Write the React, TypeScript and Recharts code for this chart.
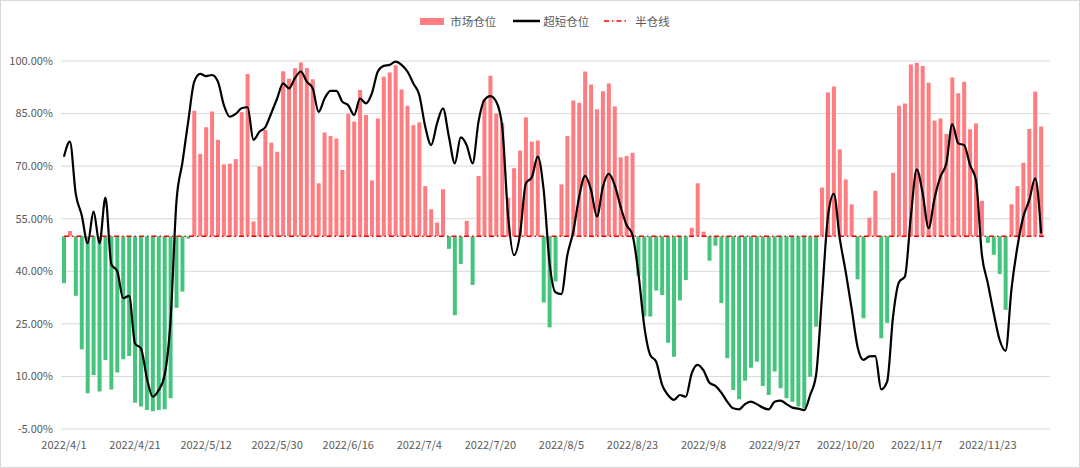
import { Bar, CartesianGrid, Cell, ComposedChart, Legend, Line, XAxis, YAxis } from "recharts";

// 交易日历：周末及节假日休市
const holidays = [
  "2022-04-04", "2022-04-05", "2022-05-02", "2022-05-03", "2022-05-04", "2022-06-03",
  "2022-09-12", "2022-10-03", "2022-10-04", "2022-10-05", "2022-10-06", "2022-10-07",
];

// 市场仓位 (%)
const marketPosition: (number | null)[] = [
  36.6, 51.5, 33.0, 17.7, 5.2, 10.4, 5.7, 14.7, 6.3, 11.1, 14.9, 15.8,
  2.5, 1.4, 0.4, 0.1, 0.4, 0.6, 3.8, 29.6, 34.2, 49.3, 85.8, 73.5,
  81.1, 85.6, 77.5, 70.5, 70.7, 72.0, 85.4, 96.3, 54.2, 69.9, 80.3, 76.7,
  74.1, 97.1, 94.9, 97.9, 99.6, 98.0, 94.8, 65.1, 79.6, 78.6, 77.9, 68.9,
  84.9, 82.7, 91.7, 84.6, 65.9, 83.6, 95.5, 96.7, 98.8, 91.9, 87.2, 81.7,
  82.5, 64.3, 57.7, 53.9, 63.4, 46.4, 27.5, 42.1, 54.4, 36.1, 67.2, 89.0,
  95.8, 85.0, 82.4, 61.0, 69.4, 74.4, 83.9, 77.0, 77.3, 31.1, 24.0, 37.1,
  64.8, 78.6, 88.7, 88.1, 97.0, 93.3, 86.2, 91.4, 93.6, 87.0, 72.5, 72.9,
  73.8, 38.7, 27.1, 27.1, 34.5, 33.2, 19.6, 15.6, 31.7, 37.5, 52.4, 65.1,
  51.3, 43.0, 47.3, 30.9, 15.2, 6.1, 3.5, 8.8, 12.5, 14.2, 7.3, 4.7,
  11.4, 6.6, 3.8, 2.8, 1.4, 0.9, 9.9, 24.2, 63.9, 91.0, 92.7, 74.8,
  66.2, 59.1, 37.7, 26.6, 55.3, 63.0, 20.9, 25.3, 68.1, 87.2, 87.9, 99.0,
  99.5, 98.6, 93.8, 83.0, 83.6, 79.2, 95.3, 90.8, 94.1, 80.5, 82.2, 60.1,
  48.1, 44.7, 39.2, 29.0, 59.1, 64.3, 71.0, 80.6, 91.3, 81.3, null,
];

// 超短仓位 (%)
const shortPosition: (number | null)[] = [
  72.7, 77.0, 62.0, 56.0, 48.0, 57.0, 48.0, 61.0, 42.0, 40.0, 32.3, 33.0,
  19.4, 18.0, 9.5, 4.2, 6.1, 10.4, 26.0, 60.0, 71.0, 83.0, 94.1, 96.3,
  95.7, 96.0, 94.1, 87.4, 84.1, 84.9, 86.5, 86.8, 77.5, 79.8, 81.1, 85.1,
  89.3, 93.6, 92.2, 95.1, 97.0, 94.1, 92.2, 85.5, 89.3, 91.5, 91.5, 88.4,
  87.4, 84.6, 89.3, 87.9, 90.8, 97.0, 98.6, 98.9, 99.8, 98.9, 97.0, 93.6,
  90.3, 81.3, 76.0, 82.2, 86.5, 78.4, 70.8, 78.2, 76.0, 70.8, 82.7, 88.9,
  90.0, 88.4, 81.3, 55.6, 44.6, 50.4, 65.1, 66.8, 72.7, 63.2, 42.3, 34.0,
  33.5, 44.6, 51.3, 61.3, 67.2, 63.2, 55.6, 64.1, 67.8, 64.6, 58.4, 53.2,
  50.4, 39.4, 24.2, 16.1, 14.2, 7.6, 4.7, 3.3, 4.7, 4.2, 10.9, 13.3,
  11.7, 8.2, 7.3, 5.4, 2.8, 0.9, 0.6, 2.1, 2.8, 2.1, 1.1, 0.6,
  2.8, 3.1, 2.1, 1.1, 0.8, 0.4, 4.7, 10.4, 32.8, 55.6, 62.1, 49.4,
  39.9, 29.4, 18.5, 14.7, 15.7, 15.8, 6.3, 8.5, 27.1, 36.9, 38.5, 55.6,
  69.1, 62.2, 52.3, 60.8, 67.0, 70.8, 82.0, 76.5, 76.0, 70.3, 66.0, 44.7,
  36.6, 28.0, 20.4, 17.3, 35.0, 47.0, 55.6, 60.3, 66.5, 50.8, null,
];

const HALF = 50;
const yTicks = [-5, 10, 25, 40, 55, 70, 85, 100];

const RED = "#FF7C80";
const GREEN = "#45C47E";
const TEXT = "#595959";
const FONT = '"Noto Sans CJK SC", "Noto Sans", sans-serif';

function tradingDays(start: string, count: number) {
  const out: string[] = [];
  const d = new Date(start + "T00:00:00Z");
  while (out.length < count) {
    const dow = d.getUTCDay();
    const iso = d.toISOString().slice(0, 10);
    if (dow !== 0 && dow !== 6 && !holidays.includes(iso)) {
      out.push(`${d.getUTCFullYear()}/${d.getUTCMonth() + 1}/${d.getUTCDate()}`);
    }
    d.setUTCDate(d.getUTCDate() + 1);
  }
  return out;
}

const dates = tradingDays("2022-04-01", marketPosition.length);

const data = dates.map((date, i) => {
  const v = marketPosition[i];
  return {
    date,
    market: v == null ? null : [Math.min(HALF, v), Math.max(HALF, v)],
    up: v != null && v >= HALF,
    short: shortPosition[i],
    half: HALF,
  };
});

function ChartLegend() {
  const item = { display: "flex", alignItems: "center" } as const;
  return (
    <div
      style={{
        height: 60,
        display: "flex",
        justifyContent: "center",
        paddingLeft: 10,
        fontFamily: FONT,
        fontSize: 11.5,
        color: TEXT,
      }}
    >
      <div style={{ ...item, height: 22, marginTop: 9 }}>
        <span style={{ width: 24, height: 7, background: RED, marginRight: 6 }} />
        <span>市场仓位</span>
        <svg width={27} height={6} style={{ marginLeft: 17, marginRight: 3 }}>
          <line x1={0} y1={3} x2={27} y2={3} stroke="#000" strokeWidth={2.5} />
        </svg>
        <span>超短仓位</span>
        <svg width={25} height={4} style={{ marginLeft: 15, marginRight: 6 }}>
          <line x1={0} y1={2} x2={25} y2={2} stroke="#FF0000" strokeWidth={1.5} strokeDasharray="5 3 1.5 3" />
        </svg>
        <span>半仓线</span>
      </div>
    </div>
  );
}

export default function App() {
  return (
    <div
      style={{
        position: "absolute",
        left: 0,
        top: 0,
        width: 1080,
        height: 468,
        boxSizing: "border-box",
        border: "1px solid #D9D9D9",
        background: "#fff",
      }}
    >
      <ComposedChart
        width={1078}
        height={466}
        data={data}
        margin={{ top: 0, right: 29, bottom: 0, left: 0 }}
        barSize={4}
      >
        <CartesianGrid vertical={false} stroke="#D9D9D9" strokeWidth={1} />
        <XAxis
          dataKey="date"
          interval={11}
          axisLine={false}
          tickLine={false}
          height={38}
          tickMargin={6}
          tick={{ fill: TEXT, fontSize: 11, fontFamily: FONT }}
        />
        <YAxis
          domain={[-5, 100]}
          ticks={yTicks}
          width={60}
          axisLine={false}
          tickLine={false}
          tick={{ fill: TEXT, fontSize: 11, fontFamily: FONT }}
          tickFormatter={(v: number) => `${v.toFixed(2)}%`}
        />
        <Legend
          verticalAlign="top"
          align="center"
          wrapperStyle={{ left: 0, width: 1078, top: 0 }}
          content={() => <ChartLegend />}
        />
        <Bar dataKey="market" name="市场仓位" isAnimationActive={false}>
          {data.map((d, i) => (
            <Cell key={i} fill={d.up ? RED : GREEN} />
          ))}
        </Bar>
        <Line
          type="monotone"
          dataKey="half"
          name="半仓线"
          stroke="#FF0000"
          strokeWidth={1.5}
          strokeDasharray="5 3 1.5 3"
          dot={false}
          activeDot={false}
          isAnimationActive={false}
        />
        <Line
          type="monotone"
          dataKey="short"
          name="超短仓位"
          stroke="#000"
          strokeWidth={2.2}
          dot={false}
          activeDot={false}
          connectNulls={false}
          isAnimationActive={false}
        />
      </ComposedChart>
    </div>
  );
}
